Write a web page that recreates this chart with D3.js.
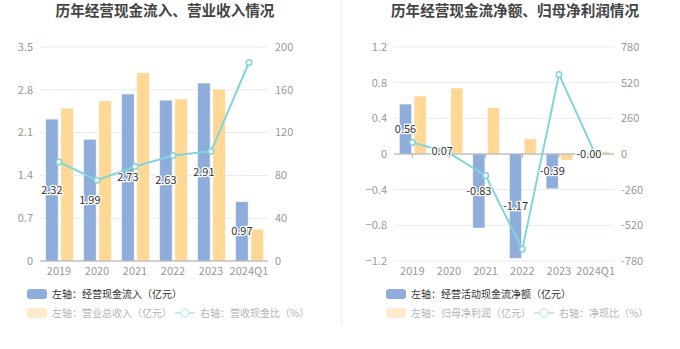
<!DOCTYPE html>
<html><head><meta charset="utf-8">
<script src="https://cdn.jsdelivr.net/npm/d3@7/dist/d3.min.js"></script>
<style>
body{margin:0;background:#fff;}
svg{display:block;font-family:"Noto Sans CJK SC","Noto Sans",sans-serif;}
</style></head>
<body><svg id="c" width="680" height="349"></svg>
<script>
const categories = ["2019","2020","2021","2022","2023","2024Q1"];
// Left chart
const cashInflow = [2.32, 1.99, 2.73, 2.63, 2.91, 0.97];
const revenue = [2.50, 2.62, 3.08, 2.65, 2.81, 0.52];
const cashRevRatio = [92.5, 75.5, 88.3, 98.5, 102.5, 185.5];
const leftTicksL = [0, 0.7, 1.4, 2.1, 2.8, 3.5];
const leftTicksR = [0, 40, 80, 120, 160, 200];
// Right chart
const netCashFlow = [0.56, 0.07, -0.83, -1.17, -0.39, -0.00];
const netProfit = [0.65, 0.74, 0.52, 0.17, -0.07, 0.026];
const netCashRatio = [85, 8, -158, -695, 580, -6];
const rightTicksL = [-1.2, -0.8, -0.4, 0, 0.4, 0.8, 1.2];
const rightTicksR = [-780, -520, -260, 0, 260, 520, 780];

const BLUE = "#8eaddb", YELLOW = "#ffd896", LINE = "#80d5d8";
const svg = d3.select("#c");

function fmt(d){
  const neg = d < 0 || Object.is(d, -0);
  return (neg ? "-" : "") + Math.abs(d).toFixed(2);
}

// divider
svg.append("line").attr("x1",341.5).attr("x2",341.5).attr("y1",0).attr("y2",325)
  .attr("stroke","#f0f0f0").attr("stroke-width",1.5);

function chart(o){
  const g = svg.append("g");
  const x = d3.scaleBand().domain(categories).range([o.x0,o.x1]);
  const yL = d3.scaleLinear().domain(o.domL).range([261,47]);
  const yR = d3.scaleLinear().domain(o.domR).range([261,47]);
  // title
  g.append("text").attr("x",o.titleX).attr("y",16).attr("text-anchor","middle")
    .attr("font-size",14.6).attr("font-weight","bold").attr("fill","#444").text(o.title);
  // grid
  g.selectAll(".grid").data(o.ticksL).join("line")
    .attr("x1",o.x0).attr("x2",o.x1).attr("y1",d=>yL(d)).attr("y2",d=>yL(d))
    .attr("stroke","#e6ebf4").attr("stroke-width",1);
  // axis labels
  g.selectAll(".tl").data(o.ticksL).join("text")
    .attr("x",o.x0-7).attr("y",d=>yL(d)).attr("dy","0.35em").attr("text-anchor","end")
    .attr("font-size",11).attr("fill","#999").text(d=>d3.format("")(d));
  g.selectAll(".tr").data(o.ticksR).join("text")
    .attr("x",o.x1+7).attr("y",d=>yR(d)).attr("dy","0.35em").attr("text-anchor","start")
    .attr("font-size",11).attr("fill","#999").text(d=>d);
  const bw = x.bandwidth()*0.33, gap = x.bandwidth()*0.07;
  const y0 = yL(0);
  // bars
  g.selectAll(".b1").data(o.s1).join("rect")
    .attr("x",(d,i)=>x(categories[i])+x.bandwidth()/2-gap/2-bw+0.5)
    .attr("y",d=>Math.min(yL(d),y0)).attr("width",bw)
    .attr("height",d=>Math.abs(yL(d)-y0)).attr("fill",BLUE)
    .attr("stroke","#fff").attr("stroke-opacity",0.6).attr("stroke-width",0.8);
  g.selectAll(".b2").data(o.s2).join("rect")
    .attr("x",(d,i)=>x(categories[i])+x.bandwidth()/2+gap/2+0.5)
    .attr("y",d=>Math.min(yL(d),y0)).attr("width",bw)
    .attr("height",d=>Math.abs(yL(d)-y0)).attr("fill",YELLOW)
    .attr("stroke","#fff").attr("stroke-opacity",0.6).attr("stroke-width",0.8);
  // axis line at zero
  g.append("line").attr("x1",o.x0).attr("x2",o.x1).attr("y1",y0).attr("y2",y0)
    .attr("stroke","#aaa").attr("stroke-width",1);
  if(o.ticks){
    g.selectAll(".tk").data(categories).join("line")
      .attr("x1",d=>x(d)+x.bandwidth()/2).attr("x2",d=>x(d)+x.bandwidth()/2)
      .attr("y1",y0).attr("y2",y0+4).attr("stroke","#aaa");
  }
  // x labels
  g.selectAll(".xl").data(categories).join("text")
    .attr("x",d=>x(d)+x.bandwidth()/2).attr("y",271).attr("dy","0.35em")
    .attr("text-anchor","middle").attr("font-size",11).attr("fill","#999").text(d=>d);
  // line
  const line = d3.line().x((d,i)=>x(categories[i])+x.bandwidth()/2).y(d=>yR(d));
  g.append("path").datum(o.s3).attr("d",line).attr("fill","none")
    .attr("stroke",LINE).attr("stroke-width",2);
  g.selectAll(".pt").data(o.s3).join("circle")
    .attr("cx",(d,i)=>x(categories[i])+x.bandwidth()/2).attr("cy",d=>yR(d)).attr("r",2.8)
    .attr("fill","#fff").attr("stroke",LINE).attr("stroke-width",1.5);
  // labels
  g.selectAll(".lb").data(o.s1).join("text")
    .attr("x",(d,i)=>x(categories[i])+x.bandwidth()/2-gap/2-bw/2+0.5)
    .attr("y",d=>(yL(d)+y0)/2).attr("dy","0.35em").attr("text-anchor","middle")
    .attr("font-size",11).attr("fill","#333")
    .attr("stroke","#fff").attr("stroke-width",2.5).attr("paint-order","stroke")
    .text(d=>fmt(d));
  // legend
  const lg = g.append("g").attr("font-size",10);
  lg.append("rect").attr("x",o.lgx).attr("y",289).attr("width",20).attr("height",10).attr("rx",3).attr("fill",BLUE);
  lg.append("text").attr("x",o.lgx+25).attr("y",294).attr("dy","0.35em").attr("fill","#333").text(o.leg1);
  lg.append("rect").attr("x",o.lgx).attr("y",308).attr("width",20).attr("height",10).attr("rx",3).attr("fill","#fdebcc");
  lg.append("text").attr("x",o.lgx+25).attr("y",313).attr("dy","0.35em").attr("fill","#b5b5b5").text(o.leg2);
  lg.append("line").attr("x1",o.lg3x).attr("x2",o.lg3x+20).attr("y1",313).attr("y2",313).attr("stroke","#c4ecee").attr("stroke-width",2);
  lg.append("circle").attr("cx",o.lg3x+10).attr("cy",313).attr("r",4).attr("fill","#fff").attr("stroke","#c4ecee").attr("stroke-width",1.5);
  lg.append("text").attr("x",o.lg3x+25).attr("y",313).attr("dy","0.35em").attr("fill","#b5b5b5").text(o.leg3);
}

chart({x0:40,x1:268,domL:[0,3.5],domR:[0,200],ticksL:leftTicksL,ticksR:leftTicksR,
  s1:cashInflow,s2:revenue,s3:cashRevRatio,title:"历年经营现金流入、营业收入情况",titleX:165,
  lgx:27,lg3x:175,leg1:"左轴：经营现金流入（亿元）",leg2:"左轴：营业总收入（亿元）",leg3:"右轴：营收现金比（%）",ticks:false});
chart({x0:394,x1:614,domL:[-1.2,1.2],domR:[-780,780],ticksL:rightTicksL,ticksR:rightTicksR,
  s1:netCashFlow,s2:netProfit,s3:netCashRatio,title:"历年经营现金流净额、归母净利润情况",titleX:515,
  lgx:386,lg3x:534,leg1:"左轴：经营活动现金流净额（亿元）",leg2:"左轴：归母净利润（亿元）",leg3:"右轴：净现比（%）",ticks:true});
</script></body></html>
